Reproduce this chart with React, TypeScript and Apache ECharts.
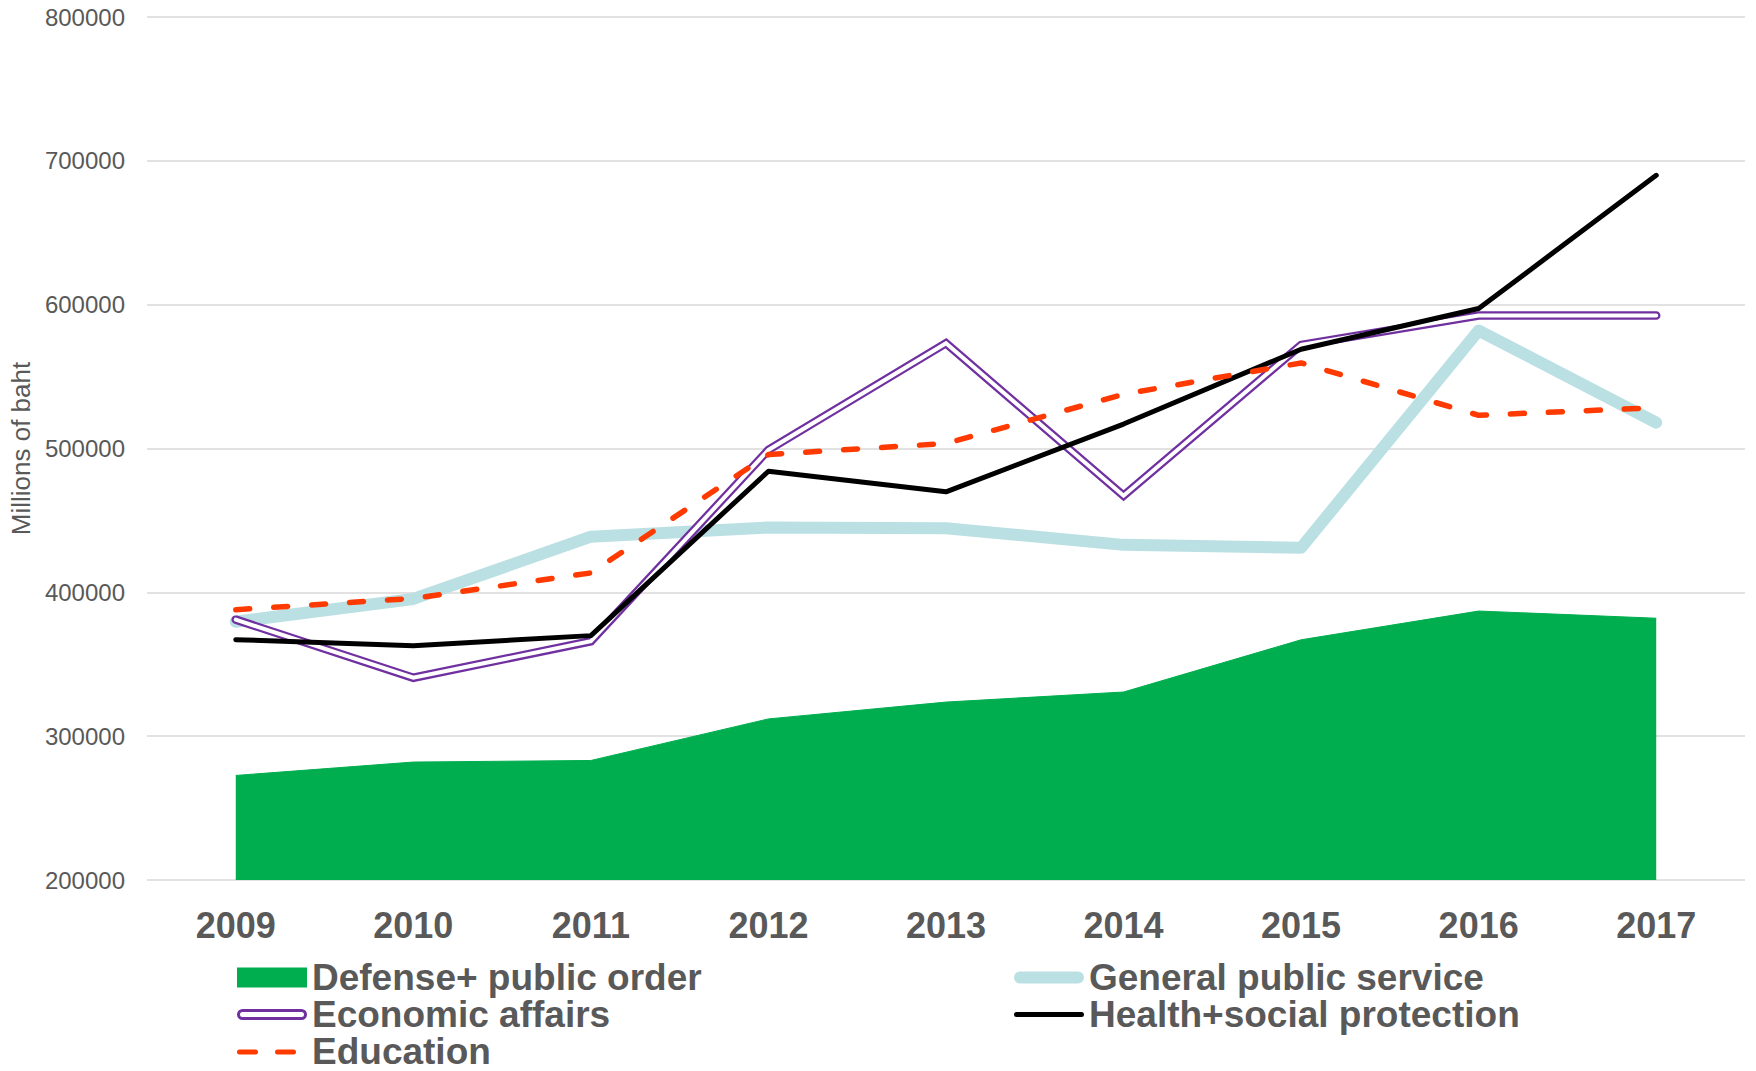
import React, { useEffect, useRef } from "react";
import * as echarts from "echarts";

const years = ["2009", "2010", "2011", "2012", "2013", "2014", "2015", "2016", "2017"];
const defense = [272700, 282000, 283100, 312000, 323700, 330700, 367000, 387000, 382000];
const generalPublic = [379600, 395400, 438700, 445100, 444600, 433000, 431000, 582000, 518000];
const economic = [381000, 340600, 366000, 499000, 573200, 467200, 572000, 592500, 592500];
const health = [367100, 362900, 369900, 484200, 469900, 517000, 569000, 597300, 689900];
const education = [387900, 395800, 413500, 495800, 503500, 537700, 559500, 523100, 528400];
const yMin = 200000;
const yMax = 800000;
const yStep = 100000;

const FONT = "'Liberation Sans', Arial, sans-serif";
const GREY = "#595959";
const GREEN = "#00AE4F";
const LIGHTBLUE = "#BBE0E3";
const PURPLE = "#7030A0";
const RED = "#FF3A00";

const BOX = "M0,0 L0,0 M70,20 L70,20 ";
const iconDefense = "path://M0,0 H70 V20 H0 Z";
const iconGeneral = "path://" + BOX + "M6,4 H64 A6,6 0 0 1 64,16 H6 A6,6 0 0 1 6,4 Z";
const iconEconomic =
  "path://" + BOX +
  "M5.5,4.5 H64.5 A5.5,5.5 0 0 1 64.5,15.5 H5.5 A5.5,5.5 0 0 1 5.5,4.5 Z " +
  "M5.5,7.5 A2.5,2.5 0 0 0 5.5,12.5 H64.5 A2.5,2.5 0 0 0 64.5,7.5 Z";
const iconHealth = "path://" + BOX + "M2.5,7.5 H67.5 A2.5,2.5 0 0 1 67.5,12.5 H2.5 A2.5,2.5 0 0 1 2.5,7.5 Z";
const iconEducation =
  "path://" + BOX +
  "M2.5,8 H18.5 A2.5,2.5 0 0 1 18.5,13 H2.5 A2.5,2.5 0 0 1 2.5,8 Z " +
  "M40.5,8 H56.5 A2.5,2.5 0 0 1 56.5,13 H40.5 A2.5,2.5 0 0 1 40.5,8 Z";

export default function App() {
  const ref = useRef<HTMLDivElement>(null);
  useEffect(() => {
    document.body.style.margin = "0";
    const chart = echarts.init(ref.current!, undefined, { renderer: "svg" });
    const legendText = { color: GREY, fontSize: 37, fontWeight: "bold", fontFamily: FONT, lineHeight: 35.5 };
    const legendCommon = {
      orient: "vertical",
      top: 959,
      height: 200,
      padding: 0,
      itemGap: 0,
      itemWidth: 70,
      itemHeight: 20,
      symbolKeepAspect: false,
      textStyle: legendText,
    };
    chart.setOption({
      animation: false,
      textStyle: { fontFamily: FONT },
      grid: { left: 146, right: 11, top: 17, bottom: 191, containLabel: false },
      legend: [
        {
          ...legendCommon,
          left: 237,
          data: [
            { name: "Defense+ public order", icon: iconDefense, itemStyle: { color: GREEN, borderWidth: 0 } },
            { name: "Economic affairs", icon: iconEconomic, itemStyle: { color: PURPLE, borderWidth: 0 } },
            { name: "Education", icon: iconEducation, itemStyle: { color: RED, borderWidth: 0 } },
          ],
        },
        {
          ...legendCommon,
          left: 1014,
          data: [
            { name: "General public service", icon: iconGeneral, itemStyle: { color: LIGHTBLUE, borderWidth: 0 } },
            { name: "Health+social protection", icon: iconHealth, itemStyle: { color: "#000000", borderWidth: 0 } },
          ],
        },
      ],
      xAxis: {
        type: "category",
        data: years,
        boundaryGap: true,
        axisLine: { show: false },
        axisTick: { show: false },
        axisLabel: { color: GREY, fontSize: 36, fontWeight: "bold", fontFamily: FONT, margin: 27 },
      },
      yAxis: {
        type: "value",
        min: yMin,
        max: yMax,
        interval: yStep,
        name: "Millions of baht",
        nameLocation: "middle",
        nameGap: 108,
        nameTextStyle: { color: GREY, fontSize: 26, fontFamily: FONT },
        axisLine: { show: false },
        axisTick: { show: false },
        axisLabel: {
          color: GREY,
          fontSize: 24,
          fontFamily: FONT,
          margin: 22,
          formatter: (v: number) => String(v),
        },
        splitLine: { lineStyle: { color: "#D9D9D9", width: 1.5 } },
      },
      series: [
        {
          name: "Defense+ public order",
          type: "line",
          data: defense,
          symbol: "none",
          lineStyle: { color: GREEN, width: 1 },
          itemStyle: { color: GREEN },
          areaStyle: { color: GREEN, opacity: 1, origin: "start" },
          z: 1,
        },
        {
          name: "General public service",
          type: "line",
          data: generalPublic,
          symbol: "none",
          lineStyle: { color: LIGHTBLUE, width: 12, cap: "round", join: "round" },
          itemStyle: { color: LIGHTBLUE },
          z: 2,
        },
        {
          name: "Economic affairs",
          type: "line",
          data: economic,
          symbol: "none",
          lineStyle: { color: PURPLE, width: 8.5, cap: "round", join: "miter" },
          itemStyle: { color: PURPLE },
          z: 3,
        },
        {
          name: "Economic affairs (inner)",
          type: "line",
          data: economic,
          symbol: "none",
          lineStyle: { color: "#FFFFFF", width: 4, cap: "round", join: "miter" },
          itemStyle: { color: "#FFFFFF" },
          z: 3,
        },
        {
          name: "Health+social protection",
          type: "line",
          data: health,
          symbol: "none",
          lineStyle: { color: "#000000", width: 5, cap: "round", join: "round" },
          itemStyle: { color: "#000000" },
          z: 4,
        },
        {
          name: "Education",
          type: "line",
          data: education,
          symbol: "none",
          lineStyle: { color: RED, width: 5.5, type: [14, 24], cap: "round", join: "round" },
          itemStyle: { color: RED },
          z: 5,
        },
      ],
    });
    return () => chart.dispose();
  }, []);
  return <div ref={ref} style={{ width: 1756, height: 1071 }} />;
}
